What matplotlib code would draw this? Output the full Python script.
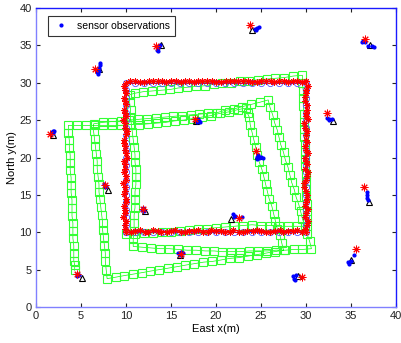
import numpy as np
import matplotlib.pyplot as plt

plt.rcParams['font.family'] = ['Liberation Sans', 'DejaVu Sans']

# true robot path (one loop around the square)
true_x = [10, 11, 12, 13, 14, 15, 16, 17, 18, 19, 20, 21, 22, 23, 24, 25, 26, 27, 28, 29, 30,
          30, 30, 30, 30, 30, 30, 30, 30, 30, 30, 30, 30, 30, 30, 30, 30, 30, 30, 30, 30,
          29, 28, 27, 26, 25, 24, 23, 22, 21, 20, 19, 18, 17, 16, 15, 14, 13, 12, 11, 10,
          10, 10, 10, 10, 10, 10, 10, 10, 10, 10, 10, 10, 10, 10, 10, 10, 10, 10, 10, 10]
true_y = [10, 10, 10, 10, 10, 10, 10, 10, 10, 10, 10, 10, 10, 10, 10, 10, 10, 10, 10, 10, 10,
          11, 12, 13, 14, 15, 16, 17, 18, 19, 20, 21, 22, 23, 24, 25, 26, 27, 28, 29, 30,
          30, 30, 30, 30, 30, 30, 30, 30, 30, 30, 30, 30, 30, 30, 30, 30, 30, 30, 30, 30,
          29, 28, 27, 26, 25, 24, 23, 22, 21, 20, 19, 18, 17, 16, 15, 14, 13, 12, 11, 10]

# odometry path (drifting, three loops)
odo_x = [10.0, 11.0, 12.0, 13.0, 14.0, 15.0, 16.0, 17.0, 18.0, 19.0, 20.0, 21.0, 22.0, 23.0, 24.0, 25.0, 26.0, 27.0, 28.0, 29.0, 30.1,
         30.1, 30.1, 30.1, 30.0, 30.0, 30.0, 30.0, 29.9, 29.9, 29.9, 29.9, 29.8, 29.8, 29.8, 29.8, 29.7, 29.7, 29.7, 29.6, 29.6,
         28.6, 27.6, 26.6, 25.7, 24.7, 23.7, 22.7, 21.7, 20.7, 19.8, 18.8, 17.8, 16.8, 15.8, 14.9, 13.9, 12.9, 11.9, 11.0, 10.4,
         10.4, 10.5, 10.5, 10.6, 10.7, 10.8, 10.9, 11.0, 11.0, 11.1, 11.1, 11.1, 11.0, 11.0, 11.0, 10.9, 10.9, 10.9, 10.8, 10.8,
         11.8, 12.8, 13.8, 14.8, 15.8, 16.8, 17.8, 18.8, 19.8, 20.7, 21.7, 22.7, 23.7, 24.7, 25.7, 26.7, 27.7, 28.7, 29.6, 30.6,
         30.4, 30.1, 29.9, 29.6, 29.4, 29.2, 28.9, 28.7, 28.4, 28.2, 28.0, 27.7, 27.5, 27.2, 27.0, 26.8, 26.5, 26.3, 26.0, 25.8,
         24.9, 23.9, 22.9, 22.0, 21.0, 20.1, 19.1, 18.1, 17.2, 16.2, 15.2, 14.3, 13.3, 12.3, 11.3, 10.3, 9.4, 8.4, 7.4, 6.4,
         6.4, 6.5, 6.6, 6.7, 6.8, 6.8, 6.9, 7.0, 7.0, 7.1, 7.2, 7.3, 7.4, 7.4, 7.5, 7.6, 7.7, 7.7, 7.8, 7.9,
         8.9, 9.8, 10.8, 11.8, 12.7, 13.7, 14.7, 15.7, 16.6, 17.6, 18.6, 19.6, 20.6, 21.5, 22.5, 23.5, 24.5, 25.5, 26.5, 27.5,
         27.3, 27.1, 26.8, 26.6, 26.4, 26.2, 25.9, 25.7, 25.5, 25.3, 25.1, 24.8, 24.6, 24.4, 24.2, 24.0, 23.8, 23.7, 23.5, 23.3,
         22.4, 21.4, 20.4, 19.4, 18.4, 17.4, 16.4, 15.4, 14.4, 13.4, 12.4, 11.4, 10.4, 9.4, 8.4, 7.4, 6.5, 5.5, 4.5, 3.6,
         3.6, 3.7, 3.7, 3.8, 3.8, 3.8, 3.9, 3.9, 3.9, 4.0, 4.0, 4.0, 4.1, 4.1, 4.1, 4.2, 4.2, 4.2, 4.3, 4.3]
odo_y = [9.7, 9.8, 9.9, 9.9, 10.0, 10.1, 10.2, 10.3, 10.4, 10.5, 10.6, 10.7, 10.8, 10.9, 11.0, 10.9, 10.9, 10.8, 10.8, 10.8, 10.8,
         11.8, 12.8, 13.8, 14.8, 15.8, 16.8, 17.8, 18.8, 19.8, 20.8, 21.8, 22.8, 23.8, 24.8, 25.8, 26.9, 27.9, 28.9, 29.9, 31.0,
         30.9, 30.7, 30.6, 30.5, 30.4, 30.3, 30.2, 30.0, 29.9, 29.8, 29.6, 29.5, 29.4, 29.3, 29.1, 29.0, 28.9, 28.8, 28.6, 28.4,
         27.4, 26.4, 25.4, 24.4, 23.4, 22.4, 21.4, 20.4, 19.4, 18.4, 17.4, 16.4, 15.4, 14.4, 13.3, 12.3, 11.2, 10.2, 9.1, 8.1,
         8.0, 7.9, 7.8, 7.8, 7.7, 7.6, 7.6, 7.5, 7.5, 7.4, 7.4, 7.4, 7.5, 7.5, 7.5, 7.6, 7.6, 7.7, 7.7, 7.8,
         8.8, 9.8, 10.8, 11.8, 12.8, 13.7, 14.7, 15.7, 16.7, 17.7, 18.7, 19.7, 20.7, 21.7, 22.7, 23.7, 24.7, 25.7, 26.7, 27.7,
         27.4, 27.1, 26.8, 26.5, 26.3, 26.0, 25.9, 25.8, 25.7, 25.6, 25.5, 25.4, 25.3, 25.2, 25.1, 25.0, 24.9, 24.8, 24.7, 24.5,
         23.5, 22.5, 21.5, 20.5, 19.5, 18.5, 17.4, 16.4, 15.4, 14.4, 13.4, 12.3, 11.3, 10.3, 9.3, 8.2, 7.2, 6.1, 5.0, 3.8,
         4.0, 4.2, 4.4, 4.6, 4.8, 5.0, 5.2, 5.4, 5.6, 5.8, 6.0, 6.1, 6.3, 6.5, 6.6, 6.8, 7.0, 7.2, 7.4, 7.6,
         8.6, 9.6, 10.5, 11.5, 12.5, 13.5, 14.5, 15.5, 16.5, 17.5, 18.4, 19.4, 20.4, 21.4, 22.4, 23.4, 24.4, 25.4, 25.9, 26.6,
         26.4, 26.1, 25.9, 25.6, 25.4, 25.2, 25.0, 24.9, 24.7, 24.6, 24.5, 24.4, 24.4, 24.3, 24.3, 24.3, 24.3, 24.3, 24.3, 24.3,
         23.3, 22.3, 21.3, 20.3, 19.3, 18.3, 17.3, 16.3, 15.3, 14.3, 13.3, 12.2, 11.2, 10.2, 9.2, 8.2, 7.2, 6.2, 5.6, 4.9]

# estimated robot path (two passes)
est_x = [10.0, 11.0, 12.1, 13.0, 13.9, 15.0, 16.1, 17.0, 18.0, 19.1, 20.0, 21.0, 21.9, 23.0, 24.1, 25.0, 26.0, 27.1, 28.0, 29.0,
         30.0, 30.1, 29.9, 30.2, 30.0, 30.1, 29.8, 30.0, 30.2, 30.1, 29.9, 30.0, 30.1, 30.0, 29.9, 30.2, 30.0, 30.1, 29.9, 30.0,
         30.0, 29.0, 28.0, 27.0, 26.1, 25.0, 24.0, 23.0, 22.0, 21.1, 20.0, 19.0, 18.0, 17.0, 16.1, 15.0, 14.0, 13.0, 12.0, 11.0,
         10.0, 9.9, 9.8, 10.0, 9.9, 9.7, 9.9, 10.0, 9.8, 9.9, 10.1, 9.9, 9.8, 10.0, 9.9, 9.8, 10.0, 9.9, 9.7, 9.9,
         10.5, 11.5, 12.4, 13.6, 14.5, 15.4, 16.5, 17.6, 18.5, 19.4, 20.5, 21.6, 22.5, 23.4, 24.5, 25.6, 26.5, 27.4, 28.5, 29.6,
         29.9, 30.2, 30.0, 29.9, 30.1, 30.0, 29.8, 30.1, 29.9, 30.0, 30.2, 29.9, 30.0, 30.1, 29.8, 30.0, 30.1, 29.9, 30.0, 30.2,
         29.5, 28.6, 27.5, 26.4, 25.5, 24.6, 23.5, 22.4, 21.5, 20.6, 19.5, 18.4, 17.5, 16.6, 15.5, 14.4, 13.5, 12.6, 11.5, 10.4,
         9.8, 10.0, 9.9, 9.8, 10.0, 9.9, 10.1, 9.8, 9.9, 10.0, 9.8, 9.9, 10.0, 9.7, 9.9, 10.0, 9.8, 9.9, 10.0, 9.9]
est_y = [10.0, 10.2, 10.1, 10.3, 10.0, 10.2, 10.1, 10.2, 10.3, 10.1, 10.2, 10.0, 10.3, 10.1, 10.2, 10.2, 10.1, 10.3, 10.2, 10.3,
         10.1, 11.0, 12.0, 13.1, 14.0, 15.0, 16.1, 17.0, 18.0, 19.1, 20.0, 21.0, 22.1, 23.0, 24.0, 25.1, 26.0, 27.0, 28.1, 29.0,
         30.2, 30.3, 30.1, 30.2, 30.2, 30.3, 30.1, 30.2, 30.3, 30.2, 30.1, 30.2, 30.3, 30.2, 30.1, 30.3, 30.2, 30.2, 30.1, 30.2,
         30.0, 29.0, 28.0, 27.1, 26.0, 25.0, 24.0, 23.1, 22.0, 21.0, 20.0, 19.1, 18.0, 17.0, 16.0, 15.1, 14.0, 13.0, 12.0, 11.0,
         10.1, 10.3, 10.0, 10.2, 10.1, 10.3, 10.0, 10.2, 10.1, 10.3, 10.2, 10.1, 10.0, 10.2, 10.3, 10.1, 10.2, 10.0, 10.2, 10.1,
         10.5, 11.5, 12.6, 13.5, 14.4, 15.5, 16.6, 17.5, 18.4, 19.5, 20.6, 21.5, 22.4, 23.5, 24.6, 25.5, 26.4, 27.5, 28.6, 29.5,
         30.1, 30.2, 30.3, 30.1, 30.2, 30.1, 30.3, 30.2, 30.2, 30.1, 30.3, 30.2, 30.1, 30.2, 30.3, 30.1, 30.2, 30.2, 30.1, 30.3,
         29.5, 28.6, 27.5, 26.4, 25.5, 24.6, 23.5, 22.4, 21.5, 20.6, 19.5, 18.4, 17.5, 16.6, 15.5, 14.4, 13.5, 12.6, 11.5, 10.4]

# sensors: true positions, estimated positions
sensor_x = [1.9, 7.0, 13.9, 24.0, 37.1, 33.0, 24.7, 17.8, 8.0, 12.1, 16.0, 5.1, 21.7, 29.1, 35.0, 37.0]
sensor_y = [23.0, 31.8, 35.0, 37.0, 35.1, 24.9, 20.2, 24.9, 15.7, 12.8, 7.0, 3.9, 11.8, 4.1, 6.3, 14.1]
sens_est_x = [1.6, 6.6, 13.3, 23.8, 36.6, 32.3, 24.4, 17.7, 7.7, 11.9, 16.1, 4.6, 22.5, 29.6, 35.6, 36.4]
sens_est_y = [23.2, 31.8, 34.9, 37.7, 35.8, 26.0, 20.9, 25.2, 16.3, 13.1, 7.1, 4.4, 11.9, 4.0, 7.7, 16.1]

# sensor observations
obs_x = [1.8, 1.9, 2.0, 1.9,
         6.9, 7.0, 7.0, 7.1, 7.1, 6.8,
         13.5, 13.6, 13.7, 13.4, 13.8,
         24.3, 24.6, 24.4, 24.8,
         36.3, 36.6, 36.9, 37.3, 37.6, 36.2,
         32.3, 32.6, 32.9, 32.5,
         24.6, 24.8, 25.0, 24.7, 25.2, 24.5,
         17.9, 18.1, 18.0, 18.2,
         7.6, 7.8, 7.7,
         11.9, 12.0, 11.8,
         15.8, 16.1, 16.0, 16.3,
         4.6, 4.8, 4.5,
         21.9, 22.1, 22.9, 22.0,
         28.7, 28.6, 28.8, 28.9,
         34.8, 34.7, 35.0, 35.3,
         36.8, 36.8, 36.8, 36.9]
obs_y = [23.4, 23.6, 23.5, 23.3,
         31.2, 31.6, 32.0, 32.4, 32.6, 31.5,
         34.3, 34.6, 34.9, 34.4, 35.1,
         37.2, 37.3, 37.0, 37.4,
         35.6, 35.4, 34.9, 34.9, 34.8, 35.5,
         25.3, 25.1, 25.2, 25.0,
         20.1, 19.9, 20.1, 20.4, 20.0, 19.8,
         24.8, 24.9, 25.2, 24.7,
         16.4, 16.2, 16.0,
         13.2, 12.9, 13.0,
         7.2, 7.4, 7.0, 7.2,
         4.4, 4.3, 4.2,
         12.4, 12.2, 12.1, 12.0,
         3.8, 4.1, 3.6, 4.3,
         5.8, 6.0, 6.2, 7.0,
         14.6, 15.0, 15.4, 14.3]

fig = plt.figure(figsize=(4.01, 3.43), dpi=100)
ax = fig.add_axes((36/401, 1-307/343, 360/401, 299/343))

ax.plot(odo_x, odo_y, '-s', color='#00ff00', mfc='none', mec='#33ff33', ms=5.5, mew=0.8, lw=0.5)
ax.plot(true_x, true_y, '-o', color='#3333ff', mfc='none', mec='#5555ff', ms=4.5, mew=0.6, lw=0.8)
ax.plot(est_x, est_y, '-', color='red', marker=(8, 2, 0), ms=4.5, mew=0.7, lw=0.5)

ax.plot(sensor_x, sensor_y, '^', color='k', mfc='none', ms=5, mew=0.8, ls='none')
ax.plot(obs_x, obs_y, '.', color='blue', ms=4, ls='none', label='sensor observations')
ax.plot(sens_est_x, sens_est_y, marker=(8, 2, 0), color='red', ms=5.5, mew=0.7, ls='none')

ax.set_xlim(0, 40)
ax.set_ylim(0, 40)
ax.set_xticks(range(0, 41, 5))
ax.set_yticks(range(0, 41, 5))
ax.tick_params(direction='in', length=3, labelsize=8, colors='#222222',
               top=True, right=True, pad=3)
for side in ['top', 'right']:
    ax.spines[side].set_color('#1a1aff')
for side in ['left', 'bottom']:
    ax.spines[side].set_color('#8080ff')
for s in ax.spines.values():
    s.set_linewidth(1.0)

ax.set_xlabel('East x(m)', fontsize=8, labelpad=2)
ax.set_ylabel('North y(m)', fontsize=8, labelpad=2)

leg = ax.legend(loc='upper left', fontsize=7.5, frameon=True, fancybox=False,
                handlelength=1.5, borderpad=0.45, bbox_to_anchor=(0.02, 0.99))
leg.get_frame().set_edgecolor('k')
leg.get_frame().set_linewidth(0.8)

fig.savefig('out.png', dpi=100)
